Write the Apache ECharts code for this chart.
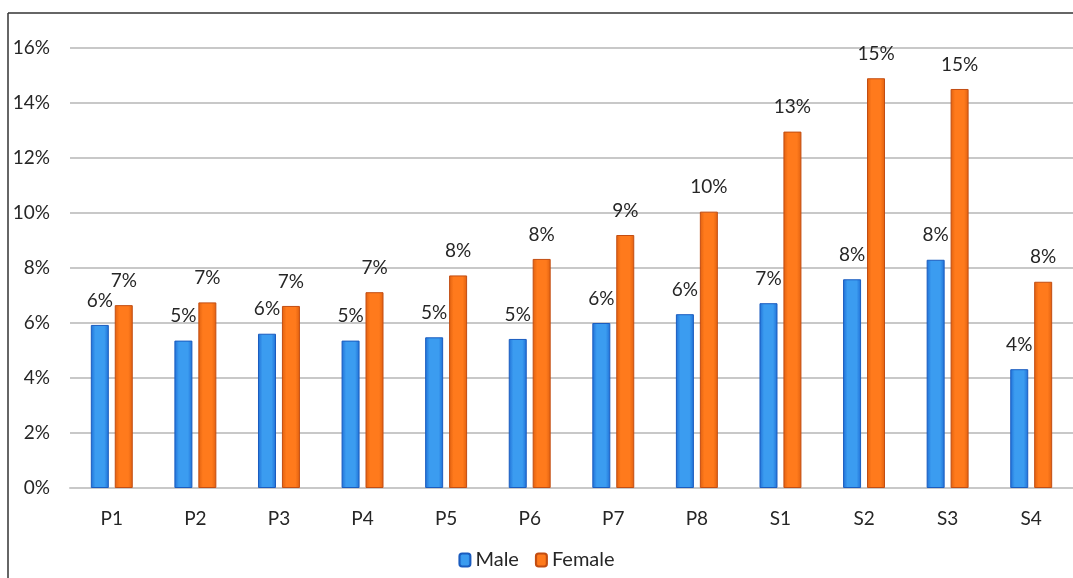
<!DOCTYPE html>
<html>
<head>
<meta charset="utf-8">
<script src="https://cdn.jsdelivr.net/npm/echarts@6/dist/echarts.min.js"></script>
<style>
  html, body { margin: 0; padding: 0; background: #fff; }
  #chart { width: 1073px; height: 578px; }
</style>
</head>
<body>
<div id="chart"></div>
<script>
// Grade levels along the x axis
const grades = ['P1', 'P2', 'P3', 'P4', 'P5', 'P6', 'P7', 'P8', 'S1', 'S2', 'S3', 'S4'];
// Share of pupils (%) per grade
const male   = [5.93, 5.36, 5.61, 5.36, 5.48, 5.42, 6.00, 6.32, 6.72, 7.59, 8.30, 4.32];
const female = [6.65, 6.75, 6.62, 7.12, 7.73, 8.33, 9.20, 10.05, 12.96, 14.90, 14.51, 7.50];
// Y axis range (%)
const yMin = 0, yMax = 16, yStep = 2;

const FONT = 'Lato, "Open Sans", sans-serif';
const TEXT = '#262626';

function barFill(edge, mid) {
  return new echarts.graphic.LinearGradient(0, 0, 1, 0, [
    { offset: 0, color: edge },
    { offset: 0.25, color: mid },
    { offset: 0.75, color: mid },
    { offset: 1, color: edge }
  ]);
}

const labelStyle = {
  show: true,
  position: 'top',
  distance: 15,
  fontFamily: FONT,
  fontSize: 19,
  color: TEXT,
  formatter: p => Math.round(p.value) + '%'
};

const chart = echarts.init(document.getElementById('chart'));
chart.setOption({
  animation: false,
  backgroundColor: '#fff',
  graphic: [
    { type: 'line', shape: { x1: 8, y1: 13, x2: 1073, y2: 13 }, style: { stroke: '#333', lineWidth: 1.5 } },
    { type: 'line', shape: { x1: 8, y1: 13, x2: 8, y2: 578 }, style: { stroke: '#333', lineWidth: 1.5 } }
  ],
  legend: {
    bottom: 3,
    left: 'center',
    itemWidth: 11,
    itemHeight: 13,
    itemGap: 16,
    textStyle: { fontFamily: FONT, fontSize: 20, color: TEXT },
    data: ['Male', 'Female']
  },
  grid: { left: 70, right: -10, top: 48, bottom: 90 },
  xAxis: {
    type: 'category',
    data: grades,
    axisTick: { show: false },
    axisLine: { lineStyle: { color: '#c8c8c8', width: 2 } },
    axisLabel: { fontFamily: FONT, fontSize: 19, color: TEXT, margin: 21 }
  },
  yAxis: {
    type: 'value',
    min: yMin,
    max: yMax,
    interval: yStep,
    axisLine: { show: false },
    axisTick: { show: false },
    splitLine: { lineStyle: { color: '#c8c8c8', width: 2 } },
    axisLabel: { fontFamily: FONT, fontSize: 19, color: TEXT, margin: 20, formatter: v => v + '%' }
  },
  series: [
    {
      name: 'Male',
      type: 'bar',
      data: male,
      barWidth: 18,
      barGap: '33%',
      itemStyle: { color: barFill('#1f6fd6', '#3b9cf0'), borderColor: '#1a5cbf', borderWidth: 1 },
      label: labelStyle
    },
    {
      name: 'Female',
      type: 'bar',
      data: female,
      barWidth: 18,
      itemStyle: { color: barFill('#e0600f', '#ff7a1c'), borderColor: '#c24d12', borderWidth: 1 },
      label: labelStyle
    }
  ]
});
</script>
</body>
</html>
